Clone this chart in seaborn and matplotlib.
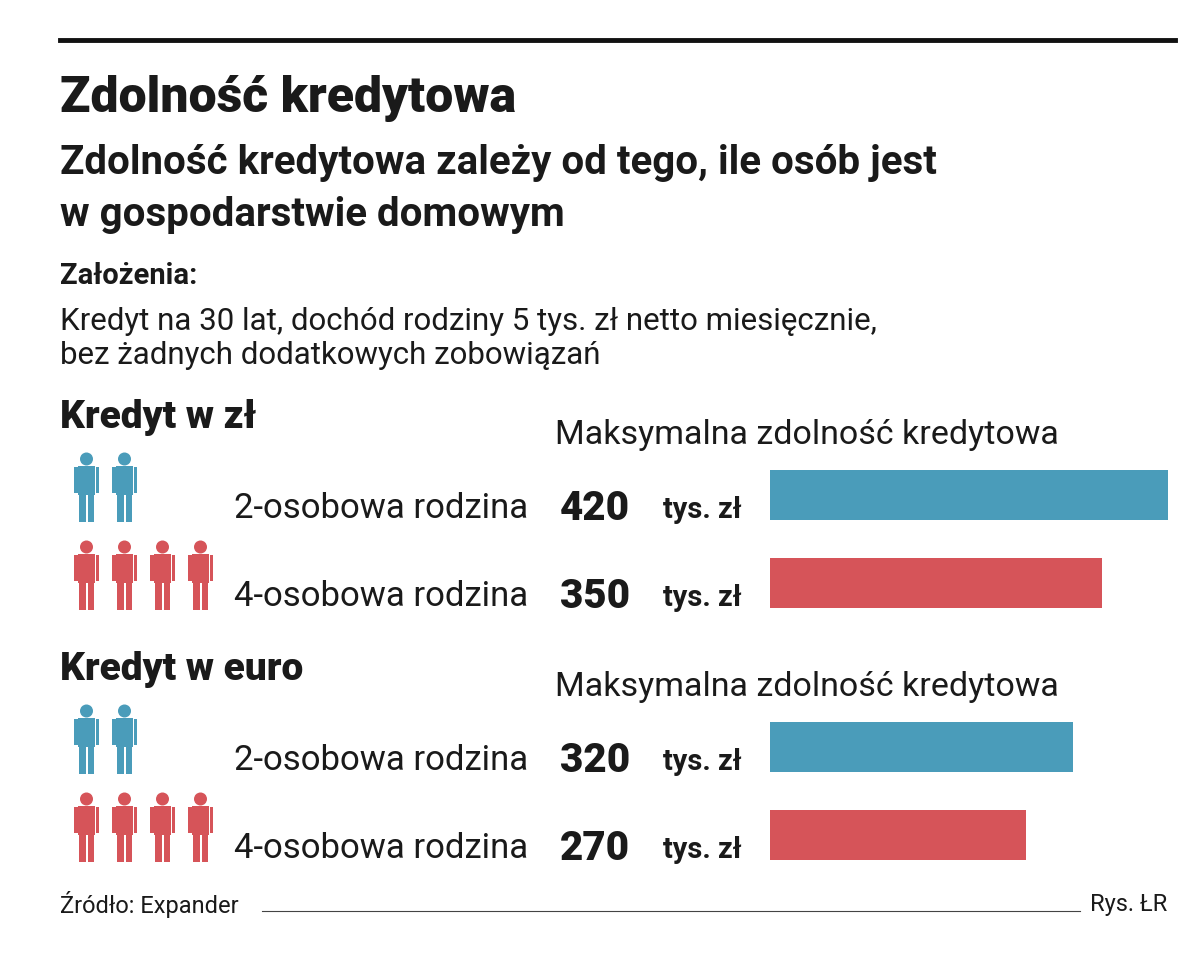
import matplotlib
matplotlib.use("Agg")
import matplotlib.pyplot as plt
import seaborn as sns
import pandas as pd
from matplotlib.patches import Rectangle, Circle

groups = ["Kredyt w zł", "Kredyt w euro"]
categories = ["2-osobowa rodzina", "4-osobowa rodzina"]
values_pln = [420, 350]
values_eur = [320, 270]
persons = [2, 4]
colors = ["#4a9cba", "#d65459"]

W, H = 1200, 969
fig = plt.figure(figsize=(12, 9.69), dpi=100)
bg = fig.add_axes([0, 0, 1, 1])
bg.set_xlim(0, W); bg.set_ylim(H, 0); bg.axis("off")
F = "Roboto"
K = "#1a1a1a"

bg.plot([60, 1175], [40, 40], color="#111", lw=3.5)
bg.text(60, 98, "Zdolność kredytowa", fontsize=36, fontweight="black", family=F, va="center", color=K)
bg.text(60, 163, "Zdolność kredytowa zależy od tego, ile osób jest", fontsize=29, fontweight="bold", family=F, va="center", color=K)
bg.text(60, 215, "w gospodarstwie domowym", fontsize=29, fontweight="bold", family=F, va="center", color=K)
bg.text(60, 276, "Założenia:", fontsize=21, fontweight="bold", family=F, va="center", color=K)
bg.text(60, 322, "Kredyt na 30 lat, dochód rodziny 5 tys. zł netto miesięcznie,", fontsize=22.5, family=F, va="center", color=K)
bg.text(60, 356, "bez żadnych dodatkowych zobowiązań", fontsize=22.5, family=F, va="center", color=K)

def person(x, ytop, c):
    bg.add_patch(Circle((x + 12.5, ytop + 6), 6.5, color=c, lw=0))
    bg.add_patch(Rectangle((x + 4, ytop + 13), 17, 29, color=c, lw=0))
    bg.add_patch(Rectangle((x, ytop + 14), 3.5, 26, color=c, lw=0))
    bg.add_patch(Rectangle((x + 21.5, ytop + 14), 3.5, 26, color=c, lw=0))
    bg.add_patch(Rectangle((x + 5, ytop + 41), 6.5, 28, color=c, lw=0))
    bg.add_patch(Rectangle((x + 13.5, ytop + 41), 6.5, 28, color=c, lw=0))

group_top = [418, 670]
for gi, (g, vals) in enumerate(zip(groups, [values_pln, values_eur])):
    yt = group_top[gi]
    bg.text(60, yt, g, fontsize=28, fontweight="black", family=F, va="center", color=K)
    bg.text(555, yt + 17, "Maksymalna zdolność kredytowa", fontsize=24.5, family=F, va="center", color=K)
    centers = [yt + 77, yt + 165]
    for i, cat in enumerate(categories):
        cy = centers[i]
        for k in range(persons[i]):
            person(74 + 38 * k, cy - 42, colors[i])
        bg.text(528, cy + 13, cat, fontsize=25, family=F, va="center", ha="right", color=K)
        bg.text(742, cy + 15, "tys. zł", fontsize=21, family=F, va="center", ha="right", fontweight="bold", color=K)
        bg.text(630, cy + 13, f"{vals[i]}", fontsize=29, family=F, va="center", ha="right", fontweight="black", color=K)
    top = centers[0] - 44
    ax = fig.add_axes([770 / W, 1 - (top + 176) / H, 398 / W, 176 / H])
    df = pd.DataFrame({"cat": categories, "v": vals})
    sns.barplot(data=df, x="v", y="cat", hue="cat", palette=colors, orient="h", width=0.57, ax=ax, legend=False, saturation=1)
    ax.set_xlim(0, 420)
    ax.axis("off")

bg.text(60, 904, "Źródło: Expander", fontsize=17, family=F, va="center", color=K)
bg.plot([262, 1080], [911, 911], color="#444", lw=0.8)
bg.text(1090, 904, "Rys. ŁR", fontsize=17, family=F, va="center", color=K)
fig.savefig("out.png", dpi=100, facecolor="white")
